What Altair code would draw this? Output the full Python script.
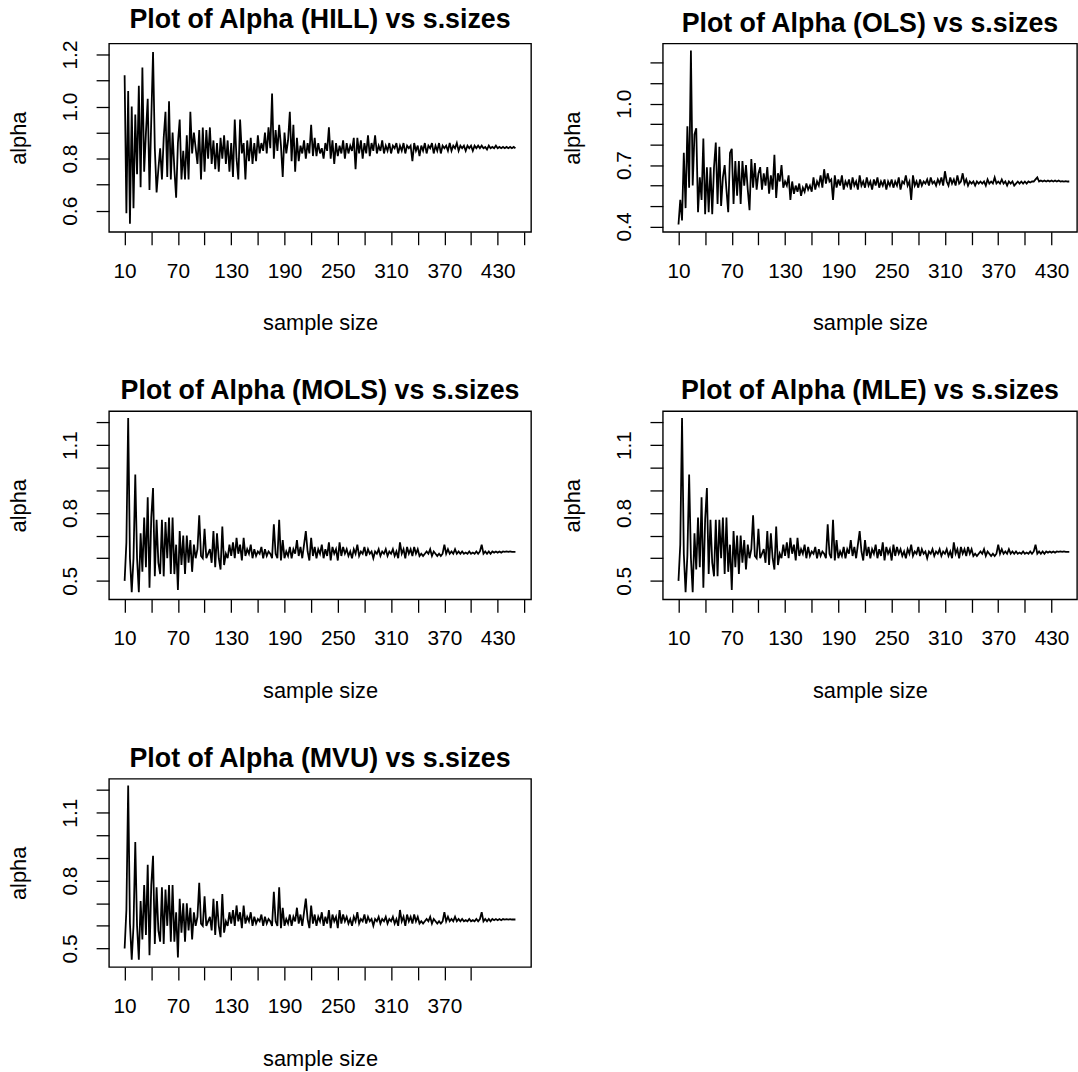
import altair as alt
import pandas as pd

# sample sizes (x) : 10, 12, ..., 450
sample_sizes = list(range(10, 451, 2))

hill = [1.12, 0.59, 1.06, 0.55, 1.00, 0.61, 0.97, 0.74, 1.08, 0.69,
        1.15, 0.75, 0.90, 1.03, 0.68, 0.95, 1.21, 0.84, 0.67, 0.76,
        0.84, 0.72, 0.88, 0.98, 0.73, 1.02, 0.72, 0.90, 0.76, 0.65,
        0.86, 0.95, 0.72, 0.83, 0.72, 0.89, 0.72, 0.98, 0.82, 0.90,
        0.84, 0.78, 0.91, 0.72, 0.92, 0.75, 0.91, 0.80, 0.92, 0.78,
        0.87, 0.76, 0.86, 0.75, 0.88, 0.80, 0.89, 0.78, 0.87, 0.75,
        0.86, 0.73, 0.95, 0.80, 0.72, 0.95, 0.82, 0.86, 0.72, 0.87,
        0.79, 0.88, 0.78, 0.86, 0.79, 0.89, 0.82, 0.86, 0.83, 0.90,
        0.82, 0.92, 0.84, 1.05, 0.80, 0.91, 0.83, 0.93, 0.85, 0.73,
        0.90, 0.82, 0.87, 0.98, 0.79, 0.93, 0.75, 0.88, 0.79, 0.85,
        0.82, 0.87, 0.80, 0.86, 0.82, 0.93, 0.81, 0.88, 0.81, 0.86,
        0.82, 0.84, 0.80, 0.86, 0.83, 0.92, 0.80, 0.87, 0.78, 0.86,
        0.81, 0.85, 0.82, 0.87, 0.80, 0.86, 0.82, 0.85, 0.83, 0.88,
        0.76, 0.88, 0.82, 0.87, 0.80, 0.86, 0.82, 0.89, 0.81, 0.86,
        0.83, 0.89, 0.82, 0.85, 0.83, 0.87, 0.82, 0.85, 0.83, 0.86,
        0.82, 0.85, 0.84, 0.86, 0.82, 0.85, 0.83, 0.86, 0.82, 0.85,
        0.84, 0.85, 0.79, 0.86, 0.83, 0.85, 0.81, 0.85, 0.83, 0.86,
        0.82, 0.85, 0.84, 0.86, 0.82, 0.85, 0.83, 0.86, 0.82, 0.85,
        0.84, 0.85, 0.83, 0.86, 0.83, 0.85, 0.84, 0.86, 0.83, 0.85,
        0.84, 0.85, 0.83, 0.85, 0.84, 0.85, 0.83, 0.85, 0.84, 0.85,
        0.84, 0.85, 0.84, 0.845, 0.835, 0.85, 0.84, 0.845, 0.84, 0.85,
        0.84, 0.845, 0.84, 0.845, 0.84, 0.845, 0.84, 0.845, 0.84, 0.845,
        0.84]

ols = [0.41, 0.53, 0.43, 0.76, 0.49, 0.89, 0.59, 1.26, 0.60, 0.85,
       0.88, 0.47, 0.64, 0.53, 0.83, 0.46, 0.69, 0.47, 0.69, 0.46,
       0.69, 0.81, 0.51, 0.79, 0.50, 0.64, 0.70, 0.58, 0.47, 0.76,
       0.78, 0.51, 0.72, 0.55, 0.72, 0.51, 0.72, 0.60, 0.70, 0.58,
       0.48, 0.73, 0.59, 0.71, 0.58, 0.66, 0.69, 0.58, 0.66, 0.60,
       0.69, 0.56, 0.65, 0.58, 0.75, 0.54, 0.66, 0.62, 0.70, 0.59,
       0.62, 0.60, 0.65, 0.53, 0.62, 0.56, 0.60, 0.57, 0.61, 0.55,
       0.59, 0.57, 0.61, 0.58, 0.60, 0.57, 0.64, 0.58, 0.62, 0.60,
       0.65, 0.59, 0.68, 0.61, 0.66, 0.62, 0.63, 0.53, 0.65, 0.59,
       0.63, 0.60, 0.65, 0.58, 0.62, 0.60, 0.63, 0.58, 0.64, 0.60,
       0.62, 0.58, 0.65, 0.60, 0.62, 0.59, 0.64, 0.60, 0.62, 0.58,
       0.63, 0.60, 0.64, 0.59, 0.62, 0.60, 0.63, 0.58, 0.62, 0.60,
       0.63, 0.59, 0.62, 0.60, 0.64, 0.58, 0.62, 0.61, 0.65, 0.60,
       0.62, 0.53, 0.65, 0.60, 0.62, 0.59, 0.63, 0.60, 0.62, 0.61,
       0.63, 0.60, 0.64, 0.61, 0.62, 0.60, 0.63, 0.61, 0.64, 0.60,
       0.67, 0.62, 0.60, 0.64, 0.61, 0.63, 0.60, 0.65, 0.61, 0.62,
       0.66, 0.61, 0.63, 0.60, 0.62, 0.61, 0.62, 0.60, 0.62, 0.61,
       0.62, 0.61, 0.62, 0.60, 0.63, 0.61, 0.62, 0.61, 0.64, 0.61,
       0.62, 0.61, 0.63, 0.61, 0.62, 0.60, 0.62, 0.61, 0.62, 0.60,
       0.61, 0.62, 0.61, 0.62, 0.61, 0.62, 0.61, 0.62, 0.615, 0.62,
       0.62, 0.63, 0.64, 0.62, 0.625, 0.62, 0.625, 0.62, 0.625, 0.62,
       0.625, 0.62, 0.625, 0.62, 0.625, 0.62, 0.622, 0.62, 0.622, 0.62,
       0.62]

mols = [0.50, 0.67, 1.22, 0.60, 0.45, 0.60, 0.97, 0.60, 0.45, 0.71,
        0.54, 0.78, 0.56, 0.87, 0.47, 0.78, 0.91, 0.52, 0.77, 0.58,
        0.53, 0.77, 0.52, 0.76, 0.60, 0.78, 0.53, 0.78, 0.53, 0.66,
        0.46, 0.72, 0.57, 0.70, 0.53, 0.70, 0.58, 0.68, 0.54, 0.66,
        0.60, 0.64, 0.79, 0.61, 0.60, 0.73, 0.60, 0.62, 0.64, 0.58,
        0.72, 0.56, 0.71, 0.60, 0.55, 0.74, 0.57, 0.62, 0.60, 0.66,
        0.61, 0.67, 0.60, 0.69, 0.62, 0.66, 0.59, 0.69, 0.61, 0.64,
        0.62, 0.66, 0.60, 0.64, 0.61, 0.63, 0.62, 0.65, 0.60, 0.64,
        0.61, 0.63, 0.62, 0.60, 0.75, 0.62, 0.60, 0.77, 0.59, 0.68,
        0.60, 0.63, 0.61, 0.65, 0.60, 0.64, 0.62, 0.68, 0.61, 0.65,
        0.60, 0.66, 0.72, 0.63, 0.59, 0.69, 0.61, 0.65, 0.60, 0.64,
        0.62, 0.66, 0.60, 0.64, 0.61, 0.67, 0.59, 0.65, 0.62, 0.64,
        0.59, 0.67, 0.61, 0.65, 0.62, 0.64, 0.61, 0.63, 0.60, 0.64,
        0.62, 0.66, 0.61, 0.63, 0.62, 0.65, 0.61, 0.64, 0.62, 0.63,
        0.60, 0.63, 0.62, 0.64, 0.61, 0.63, 0.62, 0.64, 0.61, 0.63,
        0.62, 0.64, 0.61, 0.63, 0.60, 0.67, 0.62, 0.64, 0.60, 0.65,
        0.62, 0.64, 0.61, 0.65, 0.62, 0.64, 0.61, 0.62, 0.61, 0.62,
        0.63, 0.62, 0.64, 0.61, 0.63, 0.62, 0.61, 0.62, 0.61, 0.62,
        0.66, 0.62, 0.64, 0.62, 0.63, 0.62, 0.64, 0.62, 0.63, 0.62,
        0.63, 0.62, 0.625, 0.62, 0.63, 0.62, 0.625, 0.62, 0.63, 0.62,
        0.63, 0.66, 0.62, 0.63, 0.62, 0.63, 0.62, 0.63, 0.625, 0.63,
        0.625, 0.63, 0.625, 0.63, 0.628, 0.63, 0.628, 0.63, 0.628, 0.628,
        0.628]

mle = [0.50, 0.66, 1.22, 0.62, 0.45, 0.61, 0.97, 0.60, 0.45, 0.71,
       0.55, 0.78, 0.56, 0.87, 0.47, 0.77, 0.91, 0.53, 0.77, 0.58,
       0.52, 0.77, 0.52, 0.77, 0.60, 0.78, 0.53, 0.78, 0.54, 0.66,
       0.46, 0.72, 0.56, 0.70, 0.53, 0.70, 0.58, 0.68, 0.55, 0.66,
       0.60, 0.64, 0.79, 0.61, 0.60, 0.73, 0.60, 0.62, 0.64, 0.58,
       0.72, 0.57, 0.71, 0.60, 0.55, 0.74, 0.57, 0.62, 0.60, 0.66,
       0.61, 0.67, 0.60, 0.69, 0.62, 0.66, 0.59, 0.69, 0.61, 0.64,
       0.62, 0.66, 0.60, 0.65, 0.61, 0.63, 0.62, 0.65, 0.60, 0.64,
       0.61, 0.63, 0.62, 0.60, 0.75, 0.62, 0.60, 0.77, 0.59, 0.68,
       0.60, 0.63, 0.61, 0.65, 0.60, 0.64, 0.62, 0.68, 0.61, 0.65,
       0.60, 0.66, 0.72, 0.63, 0.59, 0.68, 0.61, 0.65, 0.60, 0.64,
       0.62, 0.66, 0.60, 0.64, 0.61, 0.67, 0.59, 0.65, 0.62, 0.64,
       0.59, 0.66, 0.61, 0.65, 0.62, 0.64, 0.61, 0.63, 0.60, 0.64,
       0.62, 0.66, 0.61, 0.63, 0.62, 0.65, 0.61, 0.64, 0.62, 0.63,
       0.60, 0.63, 0.62, 0.64, 0.61, 0.63, 0.62, 0.64, 0.61, 0.63,
       0.62, 0.64, 0.61, 0.63, 0.60, 0.67, 0.62, 0.64, 0.60, 0.65,
       0.62, 0.64, 0.61, 0.65, 0.62, 0.64, 0.61, 0.62, 0.61, 0.62,
       0.63, 0.62, 0.64, 0.61, 0.63, 0.62, 0.61, 0.62, 0.61, 0.62,
       0.66, 0.62, 0.64, 0.62, 0.63, 0.62, 0.64, 0.62, 0.63, 0.62,
       0.63, 0.62, 0.625, 0.62, 0.63, 0.62, 0.625, 0.62, 0.63, 0.62,
       0.63, 0.66, 0.62, 0.63, 0.62, 0.63, 0.62, 0.63, 0.625, 0.63,
       0.625, 0.63, 0.625, 0.63, 0.628, 0.63, 0.628, 0.63, 0.628, 0.628,
       0.628]

mvu = [0.50, 0.67, 1.22, 0.61, 0.45, 0.60, 0.97, 0.60, 0.45, 0.71,
       0.54, 0.78, 0.56, 0.87, 0.47, 0.78, 0.91, 0.52, 0.77, 0.58,
       0.53, 0.77, 0.52, 0.76, 0.60, 0.78, 0.53, 0.78, 0.53, 0.66,
       0.46, 0.72, 0.57, 0.70, 0.53, 0.70, 0.58, 0.68, 0.54, 0.66,
       0.60, 0.64, 0.79, 0.61, 0.60, 0.73, 0.60, 0.62, 0.64, 0.58,
       0.72, 0.56, 0.71, 0.60, 0.55, 0.74, 0.57, 0.62, 0.60, 0.66,
       0.61, 0.67, 0.60, 0.69, 0.62, 0.66, 0.59, 0.69, 0.61, 0.64,
       0.62, 0.66, 0.60, 0.64, 0.61, 0.63, 0.62, 0.65, 0.60, 0.64,
       0.61, 0.63, 0.62, 0.60, 0.75, 0.62, 0.60, 0.77, 0.59, 0.68,
       0.60, 0.63, 0.61, 0.65, 0.60, 0.64, 0.62, 0.68, 0.61, 0.65,
       0.60, 0.66, 0.72, 0.63, 0.59, 0.69, 0.61, 0.65, 0.60, 0.64,
       0.62, 0.66, 0.60, 0.64, 0.61, 0.67, 0.59, 0.65, 0.62, 0.64,
       0.59, 0.67, 0.61, 0.65, 0.62, 0.64, 0.61, 0.63, 0.60, 0.64,
       0.62, 0.66, 0.61, 0.63, 0.62, 0.65, 0.61, 0.64, 0.62, 0.63,
       0.60, 0.63, 0.62, 0.64, 0.61, 0.63, 0.62, 0.64, 0.61, 0.63,
       0.62, 0.64, 0.61, 0.63, 0.60, 0.67, 0.62, 0.64, 0.60, 0.65,
       0.62, 0.64, 0.61, 0.65, 0.62, 0.64, 0.61, 0.62, 0.61, 0.62,
       0.63, 0.62, 0.64, 0.61, 0.63, 0.62, 0.61, 0.62, 0.61, 0.62,
       0.66, 0.62, 0.64, 0.62, 0.63, 0.62, 0.64, 0.62, 0.63, 0.62,
       0.63, 0.62, 0.625, 0.62, 0.63, 0.62, 0.625, 0.62, 0.63, 0.62,
       0.63, 0.66, 0.62, 0.63, 0.62, 0.63, 0.62, 0.63, 0.625, 0.63,
       0.625, 0.63, 0.625, 0.63, 0.628, 0.63, 0.628, 0.63, 0.628, 0.628,
       0.628]

# axis ticks / labels
x_ticks_full = [10, 40, 70, 100, 130, 160, 190, 220, 250, 280, 310, 340, 370, 400, 430, 460]
x_labels_full = ["10", "70", "130", "190", "250", "310", "370", "430"]
x_ticks_mvu = [10, 40, 70, 100, 130, 160, 190, 220, 250, 280, 310, 340, 370, 400]
x_labels_mvu = ["10", "70", "130", "190", "250", "310", "370"]

hill_yticks = [0.6, 0.7, 0.8, 0.9, 1.0, 1.1, 1.2]
hill_ylabels = ["0.6", "0.8", "1.0", "1.2"]
ols_yticks = [0.4, 0.5, 0.6, 0.7, 0.8, 0.9, 1.0, 1.1, 1.2]
ols_ylabels = ["0.4", "0.7", "1.0"]
m_yticks = [0.5, 0.6, 0.7, 0.8, 0.9, 1.0, 1.1, 1.2]
m_ylabels = ["0.5", "0.8", "1.1"]

FONT = "Liberation Sans"
X_DOMAIN = [-7.6, 467.6]
PANEL_W = 426
PANEL_H = 190


def label_expr(labels, fmt):
    arr = "[" + ",".join("'" + s + "'" for s in labels) + "]"
    return f"indexof({arr}, format(datum.value, '{fmt}')) >= 0 ? format(datum.value, '{fmt}') : ''"


def panel(name, values, y_domain, y_ticks, y_labels, x_ticks, x_labels, width=PANEL_W, x_domain=X_DOMAIN):
    n = min(len(values), len(sample_sizes))
    df = pd.DataFrame({"size": sample_sizes[:n], "alpha": values[:n]})
    return alt.Chart(df, title=alt.Title(f"Plot of Alpha ({name}) vs s.sizes")).mark_line(
        color="black", strokeWidth=1.8, clip=True
    ).encode(
        x=alt.X("size:Q",
                scale=alt.Scale(domain=x_domain, nice=False, zero=False),
                axis=alt.Axis(values=x_ticks, labelExpr=label_expr(x_labels, "d"),
                              title="sample size", labelPadding=16, titlePadding=32,
                              labelBaseline="top", labelFlush=False, labelOverlap=False)),
        y=alt.Y("alpha:Q",
                scale=alt.Scale(domain=y_domain, nice=False, zero=False),
                axis=alt.Axis(values=y_ticks, labelExpr=label_expr(y_labels, ".1f"),
                              title="alpha", labelAngle=-90, labelAlign="center",
                              labelBaseline="alphabetic", labelPadding=20, titlePadding=29,
                              labelFlush=False, labelOverlap=False)),
    ).properties(width=width, height=PANEL_H)


p_hill = panel("HILL", hill, [0.519, 1.242], hill_yticks, hill_ylabels, x_ticks_full, x_labels_full)
p_ols = panel("OLS", ols, [0.374, 1.294], ols_yticks, ols_ylabels, x_ticks_full, x_labels_full,
              width=418, x_domain=[-7.6, 458.7])
p_mols = panel("MOLS", mols, [0.418, 1.25], m_yticks, m_ylabels, x_ticks_full, x_labels_full)
p_mle = panel("MLE", mle, [0.418, 1.25], m_yticks, m_ylabels, x_ticks_full, x_labels_full,
              width=418, x_domain=[-7.6, 458.7])
p_mvu = panel("MVU", mvu, [0.418, 1.25], m_yticks, m_ylabels, x_ticks_mvu, x_labels_mvu)

chart = alt.vconcat(
    alt.hconcat(p_hill, p_ols, spacing=29),
    alt.hconcat(p_mols, p_mle, spacing=29),
    alt.hconcat(p_mvu, spacing=29),
    spacing=42,
).properties(
    padding={"left": 7, "top": 0, "right": 0, "bottom": 0},
    background="white",
).configure_view(
    stroke="black", strokeWidth=1.4
).configure_axis(
    domain=False, grid=False,
    tickColor="black", tickSize=13, tickWidth=1.3,
    labelFont=FONT, labelFontSize=21, labelColor="black",
    titleFont=FONT, titleFontSize=22, titleFontWeight="normal", titleColor="black",
).configure_title(
    font=FONT, fontSize=27, fontWeight="bold", color="black",
    anchor="middle", frame="group", offset=6, baseline="alphabetic",
)

chart.save("out.html", embed_options={"renderer": "svg", "actions": False})
